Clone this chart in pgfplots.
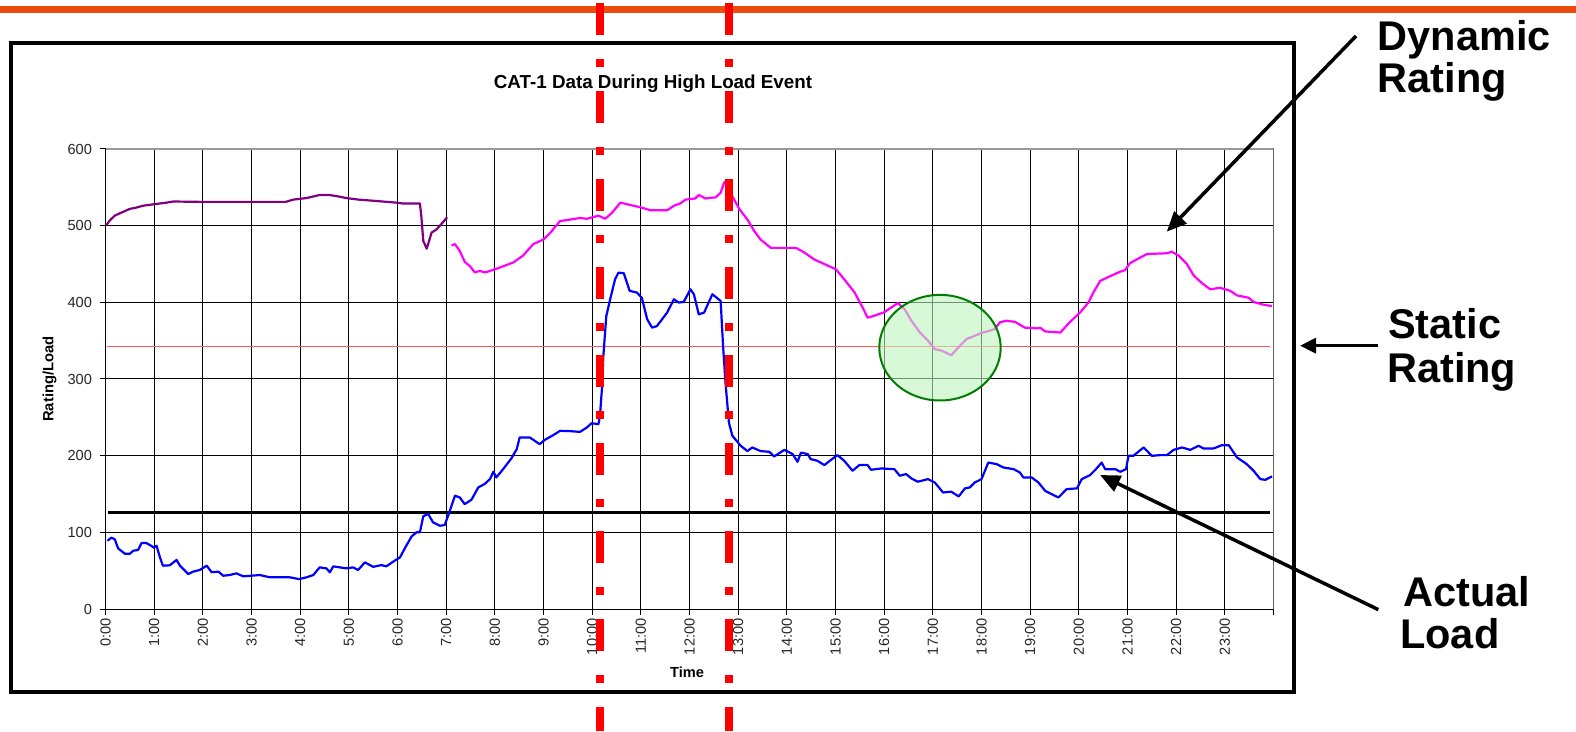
\documentclass[border=0pt]{standalone}
\usepackage{pgfplots}
\pgfplotsset{compat=1.18}
\usepackage{fontspec}
\setmainfont{Liberation Sans}
\usetikzlibrary{arrows.meta}
\definecolor{orangebar}{RGB}{236,76,12}
\definecolor{dynpurple}{RGB}{128,0,128}
\definecolor{dynmag}{RGB}{255,0,255}
\definecolor{loadblue}{RGB}{0,0,255}
\definecolor{staticred}{RGB}{255,85,85}
\definecolor{circgreen}{RGB}{0,125,0}
\definecolor{circfill}{RGB}{190,245,190}
\begin{document}
\begin{tikzpicture}[x=1pt,y=1pt]
\useasboundingbox (0,0) rectangle (1576,731);
\fill[white] (0,0) rectangle (1576,731);
\draw[orangebar, line width=6.5pt] (0,721.5) -- (1576,721.5);
\draw[black, line width=3.2pt, fill=white] (11,688) rectangle (1294,39);
\begin{axis}[
  at={(105.5pt,122pt)}, anchor=south west,
  scale only axis, width=1168pt, height=460pt,
  xmin=0, xmax=24, ymin=0, ymax=600,
  xtick={0,1,...,24},
  xticklabels={0:00,1:00,2:00,3:00,4:00,5:00,6:00,7:00,8:00,9:00,10:00,11:00,12:00,13:00,14:00,15:00,16:00,17:00,18:00,19:00,20:00,21:00,22:00,23:00,{}},
  ytick={0,100,...,600},
  grid=major,
  major grid style={black, line width=1pt},
  axis line style={draw=none},
  tick align=outside,
  major tick length=6pt,
  tick style={black, line width=1pt},
  xtick pos=left, ytick pos=left,
  xticklabel style={rotate=90, anchor=east, font=\fontsize{14.6}{16}\selectfont, color=black!85},
  yticklabel style={font=\fontsize{14.6}{16}\selectfont, color=black!85, xshift=-4pt},
  /pgf/number format/assume math mode=true,
  line join=round,
]
\draw[black, line width=1pt] (rel axis cs:0,1) -- (rel axis cs:0,0) -- (rel axis cs:1,0);
\draw[black!40, line width=1.2pt] (rel axis cs:0,1) -- (rel axis cs:1,1) -- (rel axis cs:1,0);

\addplot[staticred, line width=1.4pt] coordinates {(0.03,342.7) (23.93,342.7)};
\addplot[black, line width=2.4pt] coordinates {(0.05,126) (23.93,126)};

\addplot[dynpurple, line width=2.2pt] coordinates {
(0.02,501) (0.09,507) (0.19,513) (0.29,516) (0.40,519) (0.50,522) (0.60,523) (0.77,526) (1.00,528) (1.25,530) (1.39,531.5) (2.0,531) (3.0,531) (3.7,531) (3.86,534) (4.13,536) (4.40,540) (4.60,540) (4.75,538.5) (4.95,536) (5.20,534) (5.60,532) (5.98,530) (6.10,529) (6.46,529) (6.49,512) (6.53,480) (6.60,470) (6.63,476) (6.70,491) (6.80,495) (6.90,502) (7.02,511)
};

\addplot[dynmag, line width=2.2pt] coordinates {
(7.11,474) (7.18,476) (7.28,467) (7.38,453) (7.49,447) (7.59,439) (7.69,441) (7.80,439) (7.90,441) (8.00,443) (8.17,447) (8.38,452) (8.58,461) (8.79,476) (9.00,482) (9.13,490) (9.34,506) (9.55,508) (9.75,510) (9.89,509) (10.13,513) (10.27,509) (10.41,517) (10.58,530) (10.78,527) (10.99,524) (11.20,520) (11.54,520) (11.68,526) (11.81,529) (11.92,534) (12.12,535.5) (12.19,540) (12.33,535.5) (12.54,537) (12.64,543) (12.71,556) (12.76,559) (12.85,542) (13.02,522) (13.19,508) (13.33,493) (13.46,482) (13.67,471) (13.94,471) (14.19,471) (14.36,465) (14.56,456) (14.77,450) (15.01,443) (15.18,430) (15.39,413) (15.56,393) (15.66,380) (15.77,382) (16.00,387) (16.28,399) (16.42,391) (16.56,376) (16.73,361) (16.90,350) (17.04,339) (17.18,337) (17.38,331) (17.52,341) (17.69,352) (18.00,360) (18.27,365) (18.38,374) (18.51,376) (18.69,374.5) (18.89,367) (19.14,366) (19.20,367) (19.31,362) (19.62,360.6) (19.82,374.5) (20.03,387) (20.20,400) (20.30,413) (20.44,428) (20.64,434) (20.85,440) (20.95,442) (21.05,451) (21.19,456) (21.40,463) (21.81,464) (21.91,466) (22.05,461) (22.22,450) (22.36,435) (22.53,425) (22.70,417) (22.90,419) (23.11,415) (23.25,409) (23.49,406) (23.59,400.5) (23.79,397) (23.97,395)
};

\addplot[loadblue, line width=2.2pt] coordinates {
(0.04,89) (0.12,93) (0.19,91) (0.26,79) (0.40,72) (0.50,72) (0.57,76) (0.67,77) (0.74,86) (0.84,86) (0.95,82) (0.99,80) (1.05,82.5) (1.12,67) (1.18,56.5) (1.32,57) (1.46,64) (1.53,56.5) (1.70,45.6) (1.80,48.7) (1.94,51) (2.08,56.5) (2.18,48) (2.32,48.7) (2.42,43.4) (2.55,44.3) (2.69,46.5) (2.83,42.6) (3.17,44.3) (3.38,41.3) (3.79,41.3) (3.98,39) (4.13,41.3) (4.27,44.3) (4.40,54.3) (4.54,53) (4.61,47.8) (4.68,55.6) (4.95,53) (5.09,54.3) (5.19,50.8) (5.33,60.8) (5.50,55) (5.67,57.3) (5.77,55.6) (5.91,61.7) (6.05,67.3) (6.18,82.5) (6.29,94.7) (6.39,100) (6.46,100) (6.53,121) (6.63,124) (6.73,113) (6.87,108.6) (6.97,109.5) (7.04,121.6) (7.18,147.7) (7.28,145.5) (7.38,136.8) (7.52,142.5) (7.66,158.6) (7.79,163) (7.90,169.4) (7.97,179) (8.03,171.6) (8.17,182.4) (8.34,196.4) (8.45,208.5) (8.51,223.7) (8.72,223.7) (8.92,215) (9.03,220.7) (9.20,226.8) (9.34,232.4) (9.55,232) (9.75,231) (9.89,236.7) (9.99,242.4) (10.13,241) (10.16,252) (10.20,286.7) (10.23,330) (10.29,382) (10.37,404) (10.47,430) (10.54,438.7) (10.65,438) (10.77,415) (10.92,412.7) (11.02,406) (11.13,378) (11.23,367) (11.33,369) (11.54,386.6) (11.68,404) (11.78,399.7) (11.88,400.5) (12.02,417) (12.09,410.5) (12.19,384.4) (12.30,386.6) (12.47,410.5) (12.64,401.8) (12.69,343) (12.74,295) (12.81,243) (12.88,226) (13.05,213) (13.19,206) (13.29,210.7) (13.46,206) (13.64,205) (13.74,199) (13.95,207.6) (14.12,202) (14.22,192) (14.29,204) (14.43,202) (14.49,195.5) (14.63,193.3) (14.77,187.7) (14.91,194.6) (15.04,200.7) (15.18,193.3) (15.35,180.3) (15.49,187.7) (15.66,187.7) (15.73,181.6) (15.94,183.3) (16.21,182.4) (16.32,173.8) (16.45,176) (16.56,170.3) (16.69,166) (16.90,169.4) (17.04,165) (17.21,152) (17.38,153) (17.53,146.8) (17.66,157.3) (17.76,158.6) (17.86,165) (18.00,169.4) (18.14,191) (18.31,189) (18.45,184.6) (18.66,182.4) (18.79,178) (18.86,171.6) (19.03,171.6) (19.17,165) (19.31,154) (19.48,148.6) (19.58,145.5) (19.75,156.4) (19.96,157.3) (20.06,169.4) (20.23,174.6) (20.34,181.6) (20.47,191) (20.54,182.4) (20.75,182.4) (20.85,179) (20.97,182.4) (21.02,199.8) (21.12,199.8) (21.33,210.7) (21.50,199.8) (21.67,200.7) (21.81,200.7) (21.95,207.6) (22.12,210.7) (22.29,207.6) (22.46,212.9) (22.56,209.4) (22.77,209.4) (22.94,213.7) (23.08,213.7) (23.25,197.7) (23.45,189) (23.59,180.3) (23.73,169.4) (23.83,168.5) (23.97,172.9)
};
\end{axis}

% axis titles
\node[anchor=base, inner sep=0, font=\fontsize{18.8}{22}\selectfont\bfseries] at (653,642) {CAT-1 Data During High Load Event};
\node[anchor=base, inner sep=0, rotate=90, font=\fontsize{14.8}{17}\selectfont\bfseries] at (53.3,352) {Rating/Load};
\node[anchor=base, inner sep=0, font=\fontsize{14.6}{17}\selectfont\bfseries] at (687,53.7) {Time};

% green circle
\filldraw[draw=circgreen, line width=2pt, fill=circfill, fill opacity=0.6] (940,383.3) ellipse [x radius=60.7, y radius=52.8];

% red dash-dot markers
\draw[red, line width=8pt, dash pattern=on 32pt off 24pt on 8pt off 24pt] (600,728) -- (600,0);
\draw[red, line width=8pt, dash pattern=on 32pt off 24pt on 8pt off 24pt] (728.7,728) -- (728.7,0);

% arrows
\draw[black, line width=3.5pt, -{Triangle[length=20pt,width=17pt]}] (1356,695) -- (1166.7,499.3);
\draw[black, line width=3.5pt, -{Triangle[length=16pt,width=15pt]}] (1378.3,385.3) -- (1300,385.3);
\draw[black, line width=3.5pt, -{Triangle[length=20pt,width=17pt]}] (1378.3,121.4) -- (1100,256);

% annotations
\begin{scope}[every node/.style={anchor=base west, inner sep=0, font=\fontsize{41.5}{42}\selectfont\bfseries}]
\node at (1377.7,680.7) {Dynamic};
\node at (1377.7,638.8) {Rating};
\node at (1388,392) {Static};
\node at (1387,348) {Rating};
\node at (1403,124.5) {Actual};
\node at (1400,83) {Load};
\end{scope}
\end{tikzpicture}
\end{document}
